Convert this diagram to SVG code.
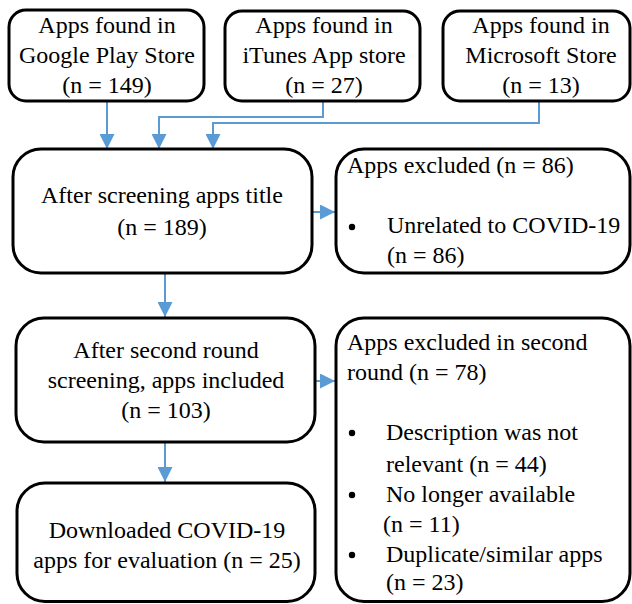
<svg xmlns="http://www.w3.org/2000/svg" width="632" height="604" viewBox="0 0 632 604">
<style>
.box{fill:#fff;stroke:#000;stroke-width:3}
text{font-family:'Liberation Serif','Times New Roman','DejaVu Serif',serif;font-size:24px;fill:#000}
.c{text-anchor:middle}
.con{fill:none;stroke:#5B9BD5;stroke-width:2;marker-end:url(#ah)}
</style>
<defs>
<marker id="ah" viewBox="0 0 10 10" refX="10" refY="5" markerWidth="15" markerHeight="15" markerUnits="userSpaceOnUse" orient="auto">
<path d="M0,0 L10,5 L0,10 z" fill="#5B9BD5"/>
</marker>
</defs>
<rect width="632" height="604" fill="#fff"/>
<g id="connectors">
<path class="con" d="M107 101 V149"/>
<path class="con" d="M323 101 V117 H159 V149"/>
<path class="con" d="M539 101 V123 H213 V149"/>
<path class="con" d="M312 212 H335"/>
<path class="con" d="M165 273 V317"/>
<path class="con" d="M315 381 H335"/>
<path class="con" d="M165 442 V482"/>
</g>
<g id="google">
<rect class="box" x="9" y="10" width="195" height="91" rx="17"/>
<text class="c" x="107" y="33">Apps found in</text>
<text class="c" x="107" y="63">Google Play Store</text>
<text class="c" x="107" y="93">(n = 149)</text>
</g>
<g id="itunes">
<rect class="box" x="225" y="11" width="195" height="90" rx="17"/>
<text class="c" x="324" y="33">Apps found in</text>
<text class="c" x="324" y="63">iTunes App store</text>
<text class="c" x="324" y="93">(n = 27)</text>
</g>
<g id="microsoft">
<rect class="box" x="443" y="11" width="187" height="90" rx="17"/>
<text class="c" x="541" y="33">Apps found in</text>
<text class="c" x="541" y="63">Microsoft Store</text>
<text class="c" x="541" y="93">(n = 13)</text>
</g>
<g id="screen1">
<rect class="box" x="13" y="149" width="299" height="124" rx="28"/>
<text class="c" x="162" y="203">After screening apps title</text>
<text class="c" x="162" y="235">(n = 189)</text>
</g>
<g id="excluded1">
<rect class="box" x="336" y="149" width="294" height="124" rx="28"/>
<text x="347" y="173">Apps excluded (n = 86)</text>
<circle cx="352" cy="227" r="3.2" fill="#000"/>
<text x="387" y="233">Unrelated to COVID-19</text>
<text x="387" y="263">(n = 86)</text>
</g>
<g id="screen2">
<rect class="box" x="16" y="318" width="299" height="124" rx="28"/>
<text class="c" x="166" y="358">After second round</text>
<text class="c" x="166" y="388">screening, apps included</text>
<text class="c" x="166" y="418">(n = 103)</text>
</g>
<g id="excluded2">
<rect class="box" x="336" y="318" width="294" height="283.5" rx="28"/>
<text x="347" y="350">Apps excluded in second</text>
<text x="347" y="380">round (n = 78)</text>
<circle cx="352" cy="433" r="3.2" fill="#000"/>
<text x="386" y="440">Description was not</text>
<text x="386" y="472">relevant (n = 44)</text>
<circle cx="352" cy="495" r="3.2" fill="#000"/>
<text x="386" y="502">No longer available</text>
<text x="383" y="532">(n = 11)</text>
<circle cx="352" cy="555" r="3.2" fill="#000"/>
<text x="386" y="562">Duplicate/similar apps</text>
<text x="386" y="590">(n = 23)</text>
</g>
<g id="download">
<rect class="box" x="17" y="483" width="298" height="118.5" rx="28"/>
<text class="c" x="167" y="538">Downloaded COVID-19</text>
<text class="c" x="167" y="568">apps for evaluation (n = 25)</text>
</g>
</svg>
